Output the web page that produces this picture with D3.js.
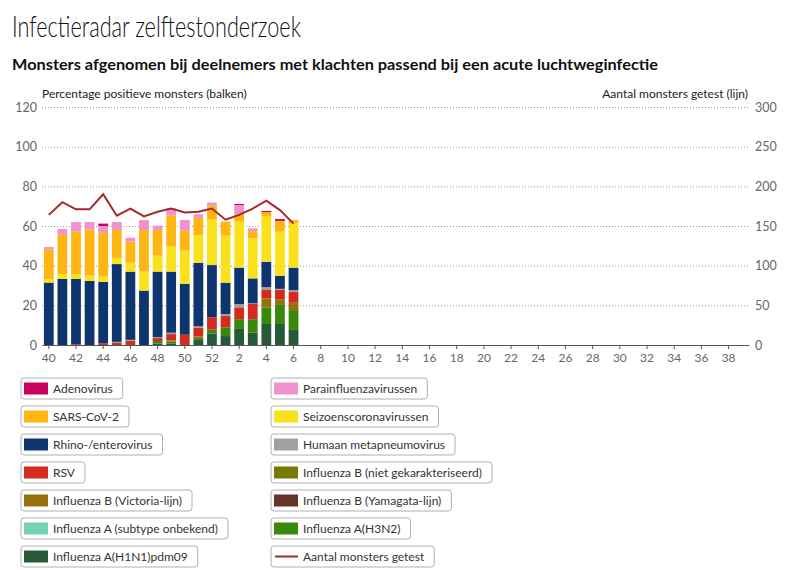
<!DOCTYPE html>
<html><head><meta charset="utf-8">
<script src="https://cdn.jsdelivr.net/npm/d3@7"></script>
<style>
body{margin:0;background:#fff;}
svg{display:block;font-family:Lato,"Open Sans",sans-serif;}
</style></head>
<body><svg id="c" width="802" height="570"></svg>
<script>
// ---- data ----
const allWeeks = [40,41,42,43,44,45,46,47,48,49,50,51,52,1,2,3,4,5,6,7,8,9,10,11,12,13,14,15,16,17,18,19,20,21,22,23,24,25,26,27,28,29,30,31,32,33,34,35,36,37,38,39];
const dataWeeks = [40,41,42,43,44,45,46,47,48,49,50,51,52,1,2,3,4,5,6];
const tickWeeks = [40,42,44,46,48,50,52,2,4,6,8,10,12,14,16,18,20,22,24,26,28,30,32,34,36,38];
const leftTicks = [0,20,40,60,80,100,120];
const rightTicks = [0,50,100,150,200,250,300];

// stack order bottom -> top
const h1n1      = [0,0,0,0,0,0,0,0,0.8,0.8,0,2.5,5.7,4.5,8.1,6.2,10.6,10.6,7.6];
const h3n2      = [0,0,0,0,0,0,0,0,1.2,1.0,0,1.0,2.0,4.4,4.9,6.8,8.2,9.6,10];
const fluAunk   = [0,0,0,0,0,0,0,0,0,0,0,0,0,0,0,0,0,0,0];
const fluBYam   = [0,0,0,0,0,0,0,0,0,0,0,0,0,0,0,0,0,0,0];
const fluBVic   = [0,0,0,0,0,0,0,0,0,0.5,0,0.8,0,0,0,0,4.7,2.9,3.7];
const fluBniet  = [0,0,0,0,0,0,0,0,0,0,0,0,0,0,0,0,0,0,0];
const rsv       = [0,0,0.4,0,0.8,1.0,2.2,0,1.5,3.2,5.2,4.5,6.3,5.7,6.0,7.7,4.5,4.7,5.4];
const hmpv      = [0,0,0,0,0,0.6,0.4,0,0.5,0.7,0,0.6,0,1.0,1.6,0.3,1.2,0.5,1.0];
const rhino     = [31.5,33.3,32.9,32.3,31,39.2,34.4,27.4,33,30.8,25.6,32,26.3,15.8,18.4,12.6,12.8,6.6,11.3];
const seasCorona= [1.7,2.5,2.5,2.8,3,3.1,4.5,9.6,8,12.9,16.8,14,23.2,23.7,23.2,20.2,22.7,22.3,22.4];
const sarsCov2  = [15,19.8,21.3,23.2,21.8,14.1,10.6,21,13,15.5,10.1,8.7,6.7,7.1,3.8,3.6,2.3,5.4,1.6];
const parainfl  = [1.2,2.9,4.9,3.7,3.4,4,2,5,2.2,3.5,5.3,1.8,1.6,0,4.6,1.4,0,0,0];
const adeno     = [0,0,0,0,1.2,0,0,0,0,0,0,0,0,0,0.5,0,0.6,0.9,0];
const tested    = [164,180,171,171,190,163,172,162,168,172,167,168,172,158,164,172,182,170,153];

const seriesNames = ["Influenza A(H1N1)pdm09","Influenza A(H3N2)","Influenza A (subtype onbekend)","Influenza B (Yamagata-lijn)","Influenza B (Victoria-lijn)","Influenza B (niet gekarakteriseerd)","RSV","Humaan metapneumovirus","Rhino-/enterovirus","Seizoenscoronavirussen","SARS-CoV-2","Parainfluenzavirussen","Adenovirus"];
const seriesValues = [h1n1,h3n2,fluAunk,fluBYam,fluBVic,fluBniet,rsv,hmpv,rhino,seasCorona,sarsCov2,parainfl,adeno];
const seriesColors = ["#275937","#39870c","#76d2b6","#673327","#94710a","#777c00","#d52b1e","#a0a0a0","#0e3570","#f9e11e","#ffb612","#f092cd","#ca005d"];
const lineName = "Aantal monsters getest";
const lineColor = "#a8282d";

// legend layout order (row-wise, two columns)
const legendOrder = ["Adenovirus","Parainfluenzavirussen","SARS-CoV-2","Seizoenscoronavirussen","Rhino-/enterovirus","Humaan metapneumovirus","RSV","Influenza B (niet gekarakteriseerd)","Influenza B (Victoria-lijn)","Influenza B (Yamagata-lijn)","Influenza A (subtype onbekend)","Influenza A(H3N2)","Influenza A(H1N1)pdm09",lineName];

// ---- drawing ----
const svg = d3.select("#c");
const mLeft = 42, mRight = 749, mTop = 107, mBottom = 345;

svg.append("text").attr("x",12).attr("y",37).attr("font-size",29).attr("font-weight",300)
  .attr("fill","#111").attr("textLength",289).attr("lengthAdjust","spacingAndGlyphs")
  .text("Infectieradar zelftestonderzoek");
svg.append("text").attr("x",12).attr("y",70).attr("font-size",15).attr("font-weight",700)
  .attr("fill","#111").attr("textLength",646).attr("lengthAdjust","spacingAndGlyphs")
  .text("Monsters afgenomen bij deelnemers met klachten passend bij een acute luchtweginfectie");
svg.append("text").attr("x",42).attr("y",98).attr("font-size",12).attr("fill","#222")
  .text("Percentage positieve monsters (balken)");
svg.append("text").attr("x",748).attr("y",98).attr("font-size",12).attr("fill","#222").attr("text-anchor","end")
  .text("Aantal monsters getest (lijn)");

const x = d3.scaleBand().domain(allWeeks).range([mLeft,mRight]).paddingInner(0.28).paddingOuter(0.14);
const y = d3.scaleLinear().domain([0,120]).range([mBottom,mTop]);
const y2 = d3.scaleLinear().domain([0,300]).range([mBottom,mTop]);

// gridlines
svg.append("g").selectAll("line").data(leftTicks.filter(d=>d>0)).join("line")
  .attr("x1",mLeft).attr("x2",mRight).attr("y1",d=>y(d)+0.5).attr("y2",d=>y(d)+0.5)
  .attr("stroke","#9a9a9a").attr("stroke-width",1).attr("stroke-dasharray","1,2");

// left axis labels
const yAxis = d3.axisLeft(y).tickValues(leftTicks).tickSize(0).tickPadding(5);
const gy = svg.append("g").attr("transform",`translate(${mLeft},0)`).call(yAxis);
gy.select(".domain").remove();
gy.selectAll("text").attr("font-size",12.5).attr("fill","#666").attr("font-family","Lato,'Open Sans',sans-serif");

const y2Axis = d3.axisRight(y2).tickValues(rightTicks).tickSize(0).tickPadding(6);
const gy2 = svg.append("g").attr("transform",`translate(${mRight},0)`).call(y2Axis);
gy2.select(".domain").remove();
gy2.selectAll("text").attr("font-size",12.5).attr("fill","#666").attr("font-family","Lato,'Open Sans',sans-serif");

// bars
const rows = dataWeeks.map((w,i)=>{const o={week:w};seriesNames.forEach((n,j)=>o[n]=seriesValues[j][i]);return o;});
const stack = d3.stack().keys(seriesNames)(rows);
svg.append("g").selectAll("g").data(stack).join("g")
  .attr("fill",(d,i)=>seriesColors[i])
  .selectAll("rect").data(d=>d).join("rect")
  .attr("x",d=>x(d.data.week)).attr("width",x.bandwidth())
  .attr("y",d=>y(d[1])).attr("height",d=>Math.max(0,y(d[0])-y(d[1])));

// x axis
const xAxis = d3.axisBottom(x).tickValues(tickWeeks).tickSize(4).tickPadding(4).tickSizeOuter(0);
const gx = svg.append("g").attr("transform",`translate(0,${mBottom})`).call(xAxis);
gx.select(".domain").attr("stroke","#555");
gx.selectAll(".tick line").attr("stroke","#555");
gx.selectAll("text").attr("font-size",12).attr("fill","#666").attr("font-family","Lato,'Open Sans',sans-serif");

// line
const line = d3.line().x((d,i)=>x(dataWeeks[i])+x.bandwidth()/2).y(d=>y2(d));
svg.append("path").datum(tested).attr("d",line).attr("fill","none")
  .attr("stroke",lineColor).attr("stroke-width",2).attr("stroke-linejoin","miter");

// legend
const lg = svg.append("g");
legendOrder.forEach((name,k)=>{
  const col = k%2, row = Math.floor(k/2);
  const bx = col===0?21:271, cy = 388.5 + row*28;
  const g = lg.append("g");
  const box = g.append("rect").attr("x",bx).attr("y",cy-10.5).attr("height",21).attr("rx",3)
    .attr("fill","#fff").attr("stroke","#b0b0b0");
  if(name===lineName){
    g.append("line").attr("x1",bx+4).attr("x2",bx+27).attr("y1",cy).attr("y2",cy)
      .attr("stroke",lineColor).attr("stroke-width",2);
  } else {
    const idx = seriesNames.indexOf(name);
    g.append("rect").attr("x",bx+3).attr("y",cy-6).attr("width",24).attr("height",12).attr("fill",seriesColors[idx]);
  }
  const t = g.append("text").attr("x",bx+32).attr("y",cy+4.5).attr("font-size",12).attr("fill","#333").text(name);
  const w = t.node().getComputedTextLength();
  box.attr("width",w+42);
});
</script></body></html>
